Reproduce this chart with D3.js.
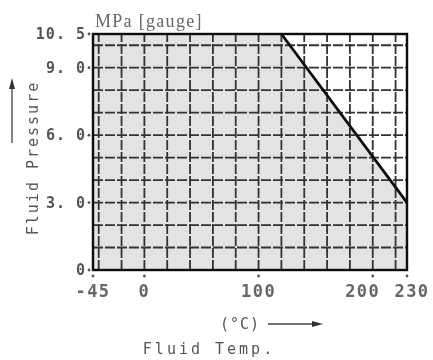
<!DOCTYPE html>
<html>
<head>
<meta charset="utf-8">
<script src="https://cdn.jsdelivr.net/npm/d3@7"></script>
<style>
  body { margin: 0; background: #fff; }
  svg { display: block; }
  .tick-label { font-family: "DejaVu Sans Mono", monospace; font-size: 15px; fill: #555; font-weight: bold; }
  .axis-title { font-family: "DejaVu Sans Mono", monospace; font-size: 15px; fill: #555; }
</style>
</head>
<body>
<div id="chart"></div>
<script>
// chart values
const xTicks = [-45, 0, 100, 200, 230]
const xTickLabels = ['-45', '0', '100', '200', '230']
const yTicks = [0, 3.0, 6.0, 9.0, 10.5]
const yTickLabels = ['0', '3. 0', '6. 0', '9. 0', '10. 5']
const xGrid = [-40, -20, 0, 20, 40, 60, 80, 100, 120, 140, 160, 180, 200, 220]
const yGrid = [1, 2, 3, 4, 5, 6, 7, 8, 9, 10]
const limitTemp = [120, 230]
const limitPressure = [10.5, 3.0]

const width = 433
const height = 360
const margin = {top: 34, right: 26, bottom: 90, left: 93}

const x = d3.scaleLinear().domain([-45, 230]).range([margin.left, width - margin.right])
const y = d3.scaleLinear().domain([0, 10.5]).range([height - margin.bottom, margin.top])

const svg = d3.select("#chart")
    .append("svg")
    .attr("width", width)
    .attr("height", height)

// soft blur, the original is a scan
svg.append("defs").append("filter")
    .attr("id", "soft")
    .append("feGaussianBlur")
    .attr("stdDeviation", 0.55)

const g = svg.append("g").attr("filter", "url(#soft)")

// shaded allowed region (left of the limit line)
const region = [
    [-45, 0], [-45, 10.5],
    [limitTemp[0], limitPressure[0]], [limitTemp[1], limitPressure[1]],
    [230, 0]
]
g.append("path")
    .attr("d", d3.line().x(d => x(d[0])).y(d => y(d[1]))(region) + "Z")
    .style("fill", "#e3e3e3")

// grid
g.selectAll("line.vgrid")
    .data(xGrid)
    .enter()
    .append("line")
    .classed("vgrid", true)
    .attr("x1", d => x(d)).attr("x2", d => x(d))
    .attr("y1", y(0)).attr("y2", y(10.5))
    .style("stroke", "#333")
    .style("stroke-width", 1.8)
    .style("stroke-dasharray", "10,2")

g.selectAll("line.hgrid")
    .data(yGrid)
    .enter()
    .append("line")
    .classed("hgrid", true)
    .attr("x1", x(-45)).attr("x2", x(230))
    .attr("y1", d => y(d)).attr("y2", d => y(d))
    .style("stroke", "#333")
    .style("stroke-width", 1.8)
    .style("stroke-dasharray", "10,2")

// frame
g.append("rect")
    .attr("x", x(-45)).attr("y", y(10.5))
    .attr("width", x(230) - x(-45))
    .attr("height", y(0) - y(10.5))
    .style("fill", "none")
    .style("stroke", "#111")
    .style("stroke-width", 2.4)

// limit line
g.append("path")
    .attr("d", d3.line().x(d => x(d[0])).y(d => y(d[1]))(limitTemp.map((t, i) => [t, limitPressure[i]])))
    .style("fill", "none")
    .style("stroke", "#111")
    .style("stroke-width", 2.8)

// y ticks
yTicks.forEach((v, i) => {
    g.append("circle").attr("cx", x(-45) - 4).attr("cy", y(v)).attr("r", 1.4).style("fill", "#555")
    g.append("text")
        .attr("class", "tick-label")
        .attr("x", x(-45) - 7)
        .attr("y", y(v) + 5)
        .attr("text-anchor", "end")
        .style("letter-spacing", "1px")
        .text(yTickLabels[i])
})

// x ticks; last two labels are nudged apart like in the print
const xNudge = {200: -10, 230: 5}
xTicks.forEach((v, i) => {
    g.append("circle").attr("cx", x(v)).attr("cy", y(0) + 6).attr("r", 1.4).style("fill", "#555")
    g.append("text")
        .attr("class", "tick-label")
        .attr("x", x(v) + (xNudge[v] || 0))
        .attr("y", y(0) + 27)
        .attr("text-anchor", "middle")
        .style("font-size", "17px")
        .style("letter-spacing", "1.5px")
        .style("fill", "#666")
        .text(xTickLabels[i])
})

// unit label
g.append("text")
    .attr("x", 95)
    .attr("y", 27)
    .style("font-family", "'Liberation Serif', serif")
    .style("font-size", "18px")
    .style("letter-spacing", "1.3px")
    .style("fill", "#666")
    .text("MPa [gauge]")

// y title and arrow
g.append("text")
    .attr("class", "axis-title")
    .attr("transform", "translate(38,158) rotate(-90)")
    .attr("text-anchor", "middle")
    .style("letter-spacing", "2px")
    .text("Fluid Pressure")

g.append("line")
    .attr("x1", 12).attr("x2", 12).attr("y1", 143).attr("y2", 86)
    .style("stroke", "#444").style("stroke-width", 1.3)
g.append("path")
    .attr("d", "M12,78 L9,89 L15,89 Z")
    .style("fill", "#333")

// x title and arrow
g.append("text")
    .attr("class", "axis-title")
    .attr("x", 240)
    .attr("y", 329)
    .attr("text-anchor", "middle")
    .style("letter-spacing", "1px")
    .text("(°C)")

g.append("line")
    .attr("x1", 268).attr("x2", 314).attr("y1", 324).attr("y2", 324)
    .style("stroke", "#444").style("stroke-width", 1.3)
g.append("path")
    .attr("d", "M323,324 L312,321 L312,327 Z")
    .style("fill", "#333")

g.append("text")
    .attr("class", "axis-title")
    .attr("x", 209)
    .attr("y", 354)
    .attr("text-anchor", "middle")
    .style("letter-spacing", "3px")
    .text("Fluid Temp.")
</script>
</body>
</html>
